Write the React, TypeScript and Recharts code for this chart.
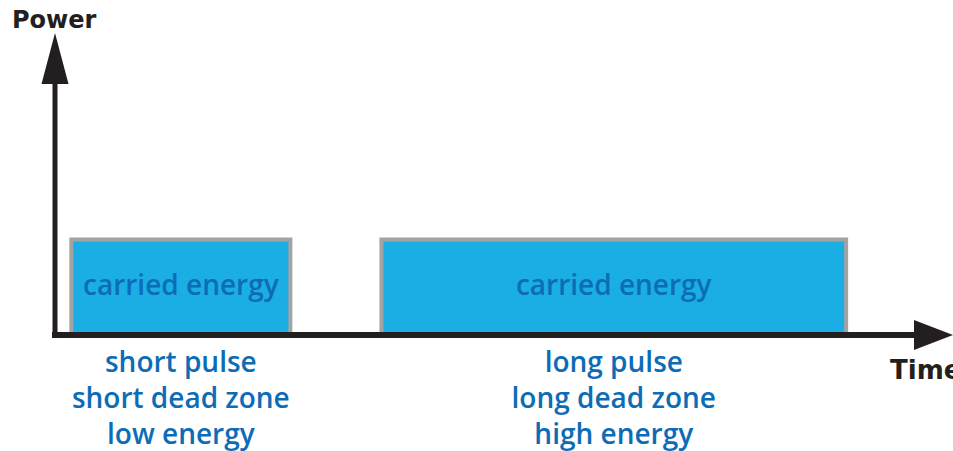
import { ComposedChart, XAxis, YAxis, ReferenceArea } from 'recharts'

// pulse start/end on the time axis, power level of each pulse
const pulseStart = [1.9, 38]
const pulseEnd = [27.4, 92.1]
const pulsePower = [38, 38]
const pulseText = ['carried energy', 'carried energy']
const pulseNotes = [
  ['short pulse', 'short dead zone', 'low energy'],
  ['long pulse', 'long dead zone', 'high energy'],
]

const pulseMid = pulseStart.map((s, i) => (s + pulseEnd[i]) / 2)
const data = pulseStart.map((s, i) => ({ start: s, end: pulseEnd[i], power: pulsePower[i] }))

const FONT = '"DejaVu Sans", sans-serif'
const NOTE_FONT = '"Open Sans", sans-serif'
const BLUE_TEXT = '#0D6CB6'
const FILL = '#1BAEE4'
const EDGE = '#A3A3A3'
const INK = '#231F20'

function InnerLabel(props: any) {
  const { viewBox, value } = props
  const { x, y, width, height } = viewBox
  return (
    <text x={x + width / 2} y={y + height / 2 + 8} textAnchor="middle" fill={BLUE_TEXT} fontSize={28} fontWeight={600} fontFamily={NOTE_FONT}>
      {value}
    </text>
  )
}

function NoteTick(props: any) {
  const { x, y, payload } = props
  const idx = pulseMid.findIndex((m) => Math.abs(m - payload.value) < 1e-6)
  const lines = pulseNotes[idx] || []
  return (
    <text textAnchor="middle" fill={BLUE_TEXT} fontSize={28} fontWeight={600} fontFamily={NOTE_FONT}>
      {lines.map((l, i) => (
        <tspan key={i} x={x} y={y + 37 + i * 36}>
          {l}
        </tspan>
      ))}
    </text>
  )
}

function TimeArrow(props: any) {
  const { x, y, width } = props.viewBox
  const end = x + width
  return (
    <g>
      <polygon points={`${end},${y - 15} ${end + 39},${y} ${end},${y + 15}`} fill={INK} />
      <text x={end - 24} y={y + 44} fill={INK} fontSize={26} fontWeight="bold" fontFamily={FONT}>
        Time
      </text>
    </g>
  )
}

function PowerArrow(props: any) {
  const { x, y, width } = props.viewBox
  const cx = x + width
  return (
    <g>
      <polygon points={`${cx - 13.5},${y} ${cx},${y - 51} ${cx + 13.5},${y}`} fill={INK} />
      <text x={12} y={y - 56} fill={INK} fontSize={24} fontWeight="bold" fontFamily={FONT}>
        Power
      </text>
    </g>
  )
}

export default function App() {
  return (
    <div style={{ position: 'absolute', left: 0, top: 0, width: 953, height: 451, background: '#fff' }}>
      <ComposedChart width={953} height={451} data={data} margin={{ top: 84, right: 39, bottom: 0, left: 0 }}>
        {pulseStart.map((s, i) => (
          <ReferenceArea
            key={i}
            x1={s}
            x2={pulseEnd[i]}
            y1={0}
            y2={pulsePower[i]}
            fill={FILL}
            fillOpacity={1}
            stroke={EDGE}
            strokeWidth={4}
            ifOverflow="visible"
            label={<InnerLabel value={pulseText[i]} />}
          />
        ))}
        <XAxis
          type="number"
          dataKey="start"
          domain={[0, 100]}
          ticks={pulseMid}
          tick={<NoteTick />}
          tickLine={false}
          tickSize={0}
          tickMargin={0}
          height={116}
          interval={0}
          axisLine={{ stroke: INK, strokeWidth: 6, strokeLinecap: 'square' }}
          label={<TimeArrow />}
          allowDataOverflow
        />
        <YAxis
          type="number"
          domain={[0, 100]}
          tick={false}
          tickLine={false}
          width={55}
          axisLine={{ stroke: INK, strokeWidth: 5, strokeLinecap: 'square' }}
          label={<PowerArrow />}
          allowDataOverflow
        />
      </ComposedChart>
    </div>
  )
}
